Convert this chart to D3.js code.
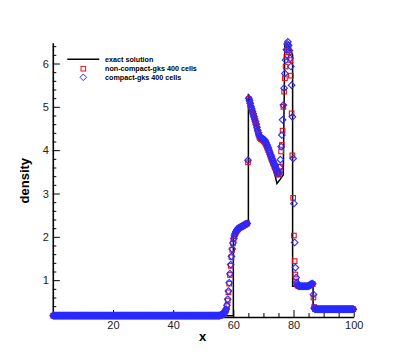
<!DOCTYPE html>
<html>
<head>
<meta charset="utf-8">
<script src="https://cdn.jsdelivr.net/npm/d3@7"></script>
<style>
  body { margin: 0; background: #fff; }
  svg { display: block; font-family: "Liberation Sans", Arial, Helvetica, sans-serif; }
</style>
</head>
<body>
<svg width="403" height="358"></svg>
<script>
// exact solution (polyline through the picture)
var exactX   = [0, 60, 60, 61, 62, 63, 64, 65, 65, 66, 67, 68, 69, 70, 71, 72, 73, 74, 74.5, 75.5, 76.6, 77.1, 77.7, 78.6, 79.7, 79.7, 86.5, 86.5, 100];
var exactRho = [0.18, 0.18, 2.0, 2.1, 2.17, 2.22, 2.26, 2.3, 5.3, 5.0, 4.74, 4.52, 4.35, 4.2, 4.04, 3.85, 3.63, 3.38, 3.23, 3.32, 3.43, 6.42, 6.47, 6.38, 6.2, 0.86, 0.88, 0.33, 0.33];

// 400 uniform cells on [0, 100]
var nCells = 400;

var nonCompactRho = [
  0.18,0.18,0.18,0.18,0.18,0.18,0.18,0.18,0.18,0.18,0.18,0.18,0.18,0.18,0.18,0.18,0.18,0.18,0.18,0.18,
  0.18,0.18,0.18,0.18,0.18,0.18,0.18,0.18,0.18,0.18,0.18,0.18,0.18,0.18,0.18,0.18,0.18,0.18,0.18,0.18,
  0.18,0.18,0.18,0.18,0.18,0.18,0.18,0.18,0.18,0.18,0.18,0.18,0.18,0.18,0.18,0.18,0.18,0.18,0.18,0.18,
  0.18,0.18,0.18,0.18,0.18,0.18,0.18,0.18,0.18,0.18,0.18,0.18,0.18,0.18,0.18,0.18,0.18,0.18,0.18,0.18,
  0.18,0.18,0.18,0.18,0.18,0.18,0.18,0.18,0.18,0.18,0.18,0.18,0.18,0.18,0.18,0.18,0.18,0.18,0.18,0.18,
  0.18,0.18,0.18,0.18,0.18,0.18,0.18,0.18,0.18,0.18,0.18,0.18,0.18,0.18,0.18,0.18,0.18,0.18,0.18,0.18,
  0.18,0.18,0.18,0.18,0.18,0.18,0.18,0.18,0.18,0.18,0.18,0.18,0.18,0.18,0.18,0.18,0.18,0.18,0.18,0.18,
  0.18,0.18,0.18,0.18,0.18,0.18,0.18,0.18,0.18,0.18,0.18,0.18,0.18,0.18,0.18,0.18,0.18,0.18,0.18,0.18,
  0.18,0.18,0.18,0.18,0.18,0.18,0.18,0.18,0.18,0.18,0.18,0.18,0.18,0.18,0.18,0.18,0.18,0.18,0.18,0.18,
  0.18,0.18,0.18,0.18,0.18,0.18,0.18,0.18,0.18,0.18,0.18,0.18,0.18,0.18,0.18,0.18,0.18,0.18,0.18,0.18,
  0.18,0.18,0.18,0.18,0.18,0.18,0.18,0.18,0.18,0.18,0.18,0.18,0.18,0.18,0.18,0.18,0.18,0.18,0.18,0.18,
  0.18,0.18,0.19,0.19,0.20,0.21,0.22,0.24,0.26,0.29,0.32,0.40,0.53,0.72,0.92,1.12,1.33,1.53,1.70,1.85,
  1.95,2.02,2.07,2.11,2.14,2.16,2.18,2.20,2.21,2.22,2.23,2.24,2.25,2.26,2.27,2.28,2.29,2.30,2.31,3.72,
  5.18,5.13,5.06,4.99,4.93,4.87,4.81,4.75,4.69,4.63,4.56,4.49,4.42,4.36,4.31,4.28,4.26,4.25,4.24,4.23,
  4.21,4.19,4.16,4.12,4.08,4.04,4.00,3.95,3.90,3.85,3.80,3.76,3.71,3.67,3.63,3.59,3.55,3.51,3.47,3.44,
  3.44,3.50,3.62,3.97,4.12,4.45,5.00,5.35,5.66,5.93,6.15,6.31,6.42,6.38,6.26,6.08,5.72,4.85,3.88,2.90,
  2.03,1.44,1.13,0.97,0.90,0.88,0.86,0.86,0.86,0.86,0.86,0.86,0.86,0.86,0.86,0.86,0.86,0.86,0.86,0.86,
  0.87,0.88,0.89,0.90,0.91,0.91,0.60,0.38,0.33,0.33,0.33,0.33,0.33,0.33,0.33,0.33,0.33,0.33,0.33,0.33,
  0.33,0.33,0.33,0.33,0.33,0.33,0.33,0.33,0.33,0.33,0.33,0.33,0.33,0.33,0.33,0.33,0.33,0.33,0.33,0.33,
  0.33,0.33,0.33,0.33,0.33,0.33,0.33,0.33,0.33,0.33,0.33,0.33,0.33,0.33,0.33,0.33,0.33,0.33,0.33,0.33
];

var compactRho = [
  0.18,0.18,0.18,0.18,0.18,0.18,0.18,0.18,0.18,0.18,0.18,0.18,0.18,0.18,0.18,0.18,0.18,0.18,0.18,0.18,
  0.18,0.18,0.18,0.18,0.18,0.18,0.18,0.18,0.18,0.18,0.18,0.18,0.18,0.18,0.18,0.18,0.18,0.18,0.18,0.18,
  0.18,0.18,0.18,0.18,0.18,0.18,0.18,0.18,0.18,0.18,0.18,0.18,0.18,0.18,0.18,0.18,0.18,0.18,0.18,0.18,
  0.18,0.18,0.18,0.18,0.18,0.18,0.18,0.18,0.18,0.18,0.18,0.18,0.18,0.18,0.18,0.18,0.18,0.18,0.18,0.18,
  0.18,0.18,0.18,0.18,0.18,0.18,0.18,0.18,0.18,0.18,0.18,0.18,0.18,0.18,0.18,0.18,0.18,0.18,0.18,0.18,
  0.18,0.18,0.18,0.18,0.18,0.18,0.18,0.18,0.18,0.18,0.18,0.18,0.18,0.18,0.18,0.18,0.18,0.18,0.18,0.18,
  0.18,0.18,0.18,0.18,0.18,0.18,0.18,0.18,0.18,0.18,0.18,0.18,0.18,0.18,0.18,0.18,0.18,0.18,0.18,0.18,
  0.18,0.18,0.18,0.18,0.18,0.18,0.18,0.18,0.18,0.18,0.18,0.18,0.18,0.18,0.18,0.18,0.18,0.18,0.18,0.18,
  0.18,0.18,0.18,0.18,0.18,0.18,0.18,0.18,0.18,0.18,0.18,0.18,0.18,0.18,0.18,0.18,0.18,0.18,0.18,0.18,
  0.18,0.18,0.18,0.18,0.18,0.18,0.18,0.18,0.18,0.18,0.18,0.18,0.18,0.18,0.18,0.18,0.18,0.18,0.18,0.18,
  0.18,0.18,0.18,0.18,0.18,0.18,0.18,0.18,0.18,0.18,0.18,0.18,0.18,0.18,0.18,0.18,0.18,0.18,0.18,0.18,
  0.18,0.18,0.19,0.19,0.20,0.21,0.22,0.24,0.26,0.29,0.33,0.42,0.56,0.75,0.94,1.15,1.36,1.55,1.72,1.86,
  1.96,2.03,2.08,2.12,2.15,2.17,2.19,2.20,2.21,2.22,2.23,2.24,2.25,2.26,2.27,2.28,2.29,2.30,2.31,3.77,
  5.20,5.15,5.08,5.01,4.95,4.89,4.84,4.78,4.72,4.66,4.60,4.53,4.46,4.40,4.34,4.31,4.29,4.28,4.27,4.26,
  4.25,4.24,4.21,4.17,4.13,4.09,4.05,4.00,3.95,3.90,3.86,3.81,3.76,3.72,3.68,3.64,3.59,3.55,3.50,3.46,
  3.48,3.60,3.78,4.08,4.35,4.70,5.04,5.43,5.77,6.08,6.32,6.45,6.50,6.42,6.30,6.12,5.93,5.50,4.77,3.81,
  2.77,1.87,1.29,1.06,0.94,0.89,0.86,0.86,0.86,0.86,0.86,0.86,0.86,0.86,0.86,0.86,0.86,0.86,0.86,0.86,
  0.87,0.88,0.90,0.91,0.92,0.92,0.67,0.36,0.33,0.33,0.33,0.33,0.33,0.33,0.33,0.33,0.33,0.33,0.33,0.33,
  0.33,0.33,0.33,0.33,0.33,0.33,0.33,0.33,0.33,0.33,0.33,0.33,0.33,0.33,0.33,0.33,0.33,0.33,0.33,0.33,
  0.33,0.33,0.33,0.33,0.33,0.33,0.33,0.33,0.33,0.33,0.33,0.33,0.33,0.33,0.33,0.33,0.33,0.33,0.33,0.33
];

var xMajor = [20, 40, 60, 80, 100];
var yMajor = [1, 2, 3, 4, 5, 6];
var legendLabels = ["exact solution", "non-compact-gks 400 cells", "compact-gks 400 cells"];

var svg = d3.select("svg");

var x = d3.scaleLinear().domain([0, 100]).range([52.8, 353.7]);
var y = d3.scaleLinear().domain([0.15, 6.48]).range([317, 42.7]);

function cells(rho) {
  return rho.map(function(v, i) { return {x: (i + 0.5) * 100 / nCells, v: v}; });
}

// minor ticks
svg.append("g")
    .attr("transform", "translate(0," + y.range()[0] + ")")
    .call(d3.axisBottom(x)
        .tickValues(d3.range(5, 100, 5).filter(function(v) { return v % 20; }))
        .tickSize(-4).tickFormat(""))
    .call(function(g) { g.select(".domain").remove(); });

svg.append("g")
    .attr("transform", "translate(" + x.range()[0] + ",0)")
    .call(d3.axisLeft(y)
        .tickValues(d3.range(0.2, 6.45, 0.2).filter(function(v) { return Math.abs(v - Math.round(v)) > 0.01; }))
        .tickSize(-3.5).tickFormat(""))
    .call(function(g) { g.select(".domain").remove(); });

// major axes
var xAxis = svg.append("g")
    .attr("transform", "translate(0," + y.range()[0] + ")")
    .call(d3.axisBottom(x).tickValues(xMajor).tickSize(-7).tickSizeOuter(0).tickPadding(4.5));

var yAxis = svg.append("g")
    .attr("transform", "translate(" + x.range()[0] + ",0)")
    .call(d3.axisLeft(y).tickValues(yMajor).tickFormat(d3.format("d")).tickSize(-7).tickSizeOuter(0).tickPadding(4));

[xAxis, yAxis].forEach(function(g) {
  g.selectAll("text").attr("font-size", 11).attr("fill", "#222");
  g.select(".domain").attr("stroke-width", 1.6);
  g.attr("font-family", null);
});
svg.selectAll(".tick line").attr("stroke", "#000");

// exact line
var exact = exactX.map(function(d, i) { return {x: d, v: exactRho[i]}; });
svg.append("path")
    .datum(exact)
    .attr("fill", "none")
    .attr("stroke", "#000")
    .attr("stroke-width", 1.5)
    .attr("d", d3.line().x(function(d) { return x(d.x); }).y(function(d) { return y(d.v); }));

// non-compact: red squares
var sq = 4.6;
svg.append("g").selectAll("rect")
    .data(cells(nonCompactRho))
    .enter().append("rect")
      .attr("x", function(d) { return x(d.x) - sq / 2; })
      .attr("y", function(d) { return y(d.v) - sq / 2; })
      .attr("width", sq).attr("height", sq)
      .attr("fill", "none")
      .attr("stroke", "#e8101a")
      .attr("stroke-width", 1.1);

// compact: blue diamonds
var diamond = "M0,-3.3L3.3,0L0,3.3L-3.3,0Z";
svg.append("g").selectAll("path")
    .data(cells(compactRho))
    .enter().append("path")
      .attr("d", diamond)
      .attr("transform", function(d) { return "translate(" + x(d.x) + "," + y(d.v) + ")"; })
      .attr("fill", "none")
      .attr("stroke", "#2a2aff")
      .attr("stroke-width", 1.1);

// axis titles
svg.append("text")
    .attr("x", 202.7).attr("y", 340.7)
    .attr("text-anchor", "middle")
    .attr("font-size", 13).attr("font-weight", "bold")
    .text("x");

svg.append("text")
    .attr("transform", "translate(28.5,180.7) rotate(-90)")
    .attr("text-anchor", "middle")
    .attr("font-size", 13).attr("font-weight", "bold")
    .text("density");

// legend
var legend = svg.append("g");
var rowY = [59.3, 68.7, 77.3];
legend.append("line")
    .attr("x1", 67.3).attr("x2", 99.3)
    .attr("y1", rowY[0]).attr("y2", rowY[0])
    .attr("stroke", "#000").attr("stroke-width", 1.5);
legend.append("rect")
    .attr("x", 83.3 - sq / 2).attr("y", rowY[1] - sq / 2)
    .attr("width", sq).attr("height", sq)
    .attr("fill", "none").attr("stroke", "#e8101a");
legend.append("path")
    .attr("d", diamond)
    .attr("transform", "translate(83.3," + rowY[2] + ")")
    .attr("fill", "none").attr("stroke", "#2a2aff");
legend.selectAll("text")
    .data(legendLabels)
    .enter().append("text")
      .attr("x", 105)
      .attr("y", function(d, i) { return rowY[i] + 2.6; })
      .attr("font-size", 7.2)
      .attr("font-weight", "bold")
      .text(function(d) { return d; });
</script>
</body>
</html>
